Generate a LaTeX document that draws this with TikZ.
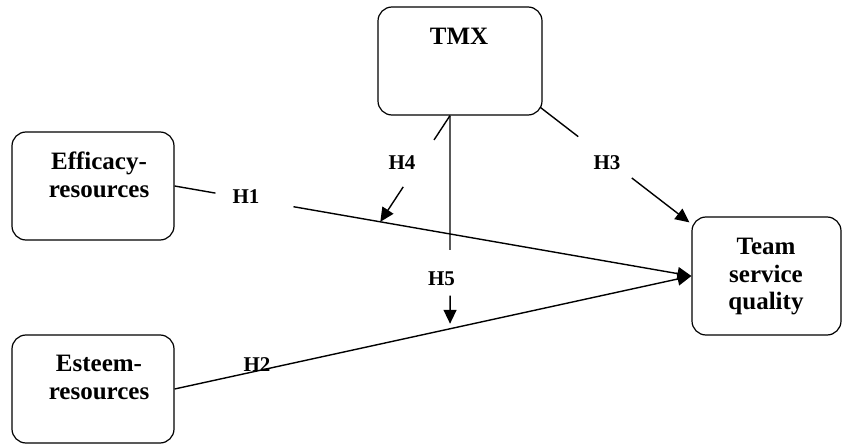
\documentclass[tikz,border=0pt]{standalone}
\usepackage{fontspec}
\setmainfont{Liberation Serif}
\usetikzlibrary{calc, arrows.meta}
\tikzset{
  box/.style={draw, line width=1.2pt, rounded corners=14pt, inner sep=0pt},
  boxtxt/.style={align=center, font=\fontsize{25}{27.5}\selectfont\bfseries},
  hyp/.style={font=\fontsize{21}{24}\selectfont\bfseries},
  link/.style={line width=1.4pt},
  arr/.style={link, -{Triangle[length=14pt,width=13pt]}}
}

\begin{document}
\begin{tikzpicture}[x=1pt,y=1pt]
    \useasboundingbox (0,0) rectangle (843,445);
    \node (tmx) at (460,384) [box, minimum width=164pt, minimum height=108pt] {};
    \node (eff) at (93,259) [box, minimum width=162pt, minimum height=108pt] {};
    \node (est) at (93,56) [box, minimum width=162pt, minimum height=108pt] {};
    \node (team) at (766.5,169) [box, minimum width=149pt, minimum height=118pt] {};
    \node (tmxtxt) at (459,408.5) [boxtxt] {TMX};
    \node (efftxt) at (99,270) [boxtxt] {Efficacy-\\resources};
    \node (esttxt) at (99,67.5) [boxtxt] {Esteem-\\resources};
    \node (teamtxt) at (766,168) [boxtxt] {Team\\service\\quality};

    \node (h1) at (246,248.5) [hyp] {H1};
    \node (h2) at (257,80) [hyp] {H2};
    \node (h3) at (607,282.5) [hyp] {H3};
    \node (h4) at (402,282) [hyp] {H4};
    \node (h5) at (441.5,166.5) [hyp] {H5};

    \coordinate (t0) at ([xshift=-10pt]tmx.south);
    \coordinate (m1) at ($(eff.east)!.398!(team.west)$);
    \coordinate (m2) at ($(est.east)!.533!(team.west)$);
    \coordinate (h3s) at ([shift={(-2,8)}]tmx.south east);
    \coordinate (h3e) at ([shift={(-2,-6)}]team.north west);

    \draw[link] (eff.east) -- ($(eff.east)!.079!(team.west)$);
    \draw[arr] ($(eff.east)!.23!(team.west)$) -- (team.west);
    \draw[arr] (est.east) -- (team.west);
    \draw[link] (h3s) -- ($(h3s)!.253!(h3e)$);
    \draw[arr] ($(h3s)!.613!(h3e)$) -- (h3e);
    \draw[link] (t0) -- ($(t0)!.229!(m1)$);
    \draw[arr] ($(t0)!.671!(m1)$) -- (m1);
    \draw[link] (t0) -- ($(t0)!.63!(m2)$);
    \draw[arr, shorten >=5pt] ($(t0)!.844!(m2)$) -- (m2);
\end{tikzpicture}
\end{document}
